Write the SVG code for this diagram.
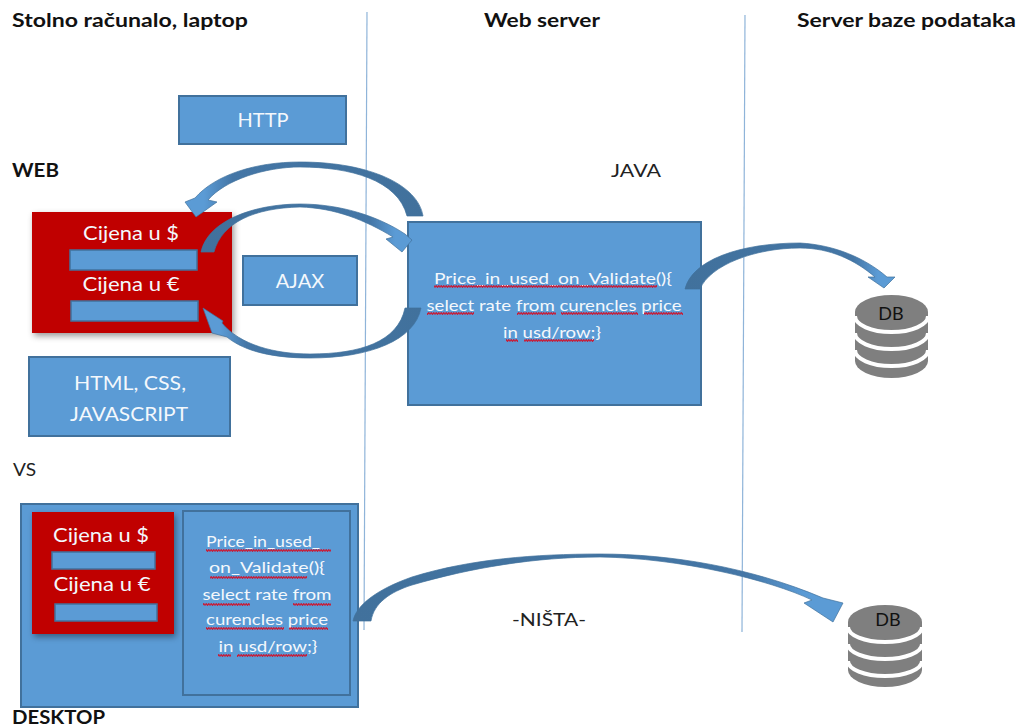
<svg xmlns="http://www.w3.org/2000/svg" width="1018" height="728" viewBox="0 0 1018 728">
<style>
text{font-family:"Lato","Open Sans","Liberation Sans",sans-serif}
.h{font-size:18px;font-weight:700;fill:#111}
.d{font-size:18px;fill:#222}
.w{font-size:20px;fill:#f4f8fc;text-anchor:middle}
.c{font-size:16px;fill:#f4f8fc;text-anchor:middle}
.box{fill:#5b9bd5;stroke:#41719c;stroke-width:2}
.red{fill:#c00000;filter:url(#sh)}
.inp{fill:#5b9bd5;stroke:#41719c;stroke-width:1.5}
.div{stroke:#8fb4d9;stroke-width:1.2;fill:none}
.arr{stroke:#41719c;stroke-width:.7;stroke-linejoin:miter}
.g{fill:#7f7f7f}
.band{fill:none;stroke:#fff;stroke-width:4}
.dbt{font-size:18px;fill:#111;text-anchor:middle}
.sq{fill:url(#wave)}
</style>
<defs>
<filter id="sh" x="-10%" y="-10%" width="125%" height="125%"><feDropShadow dx="2" dy="3" stdDeviation="3" flood-color="#000" flood-opacity=".4"/></filter>
<pattern id="wave" width="5" height="3" patternUnits="userSpaceOnUse"><path d="M0,2.400 L1.250,.6 L2.500,2.400 L3.750,.6 L5,2.400" fill="none" stroke="#c4203c" stroke-width="1.200"/></pattern>
<linearGradient id="ltr"><stop offset="0" stop-color="#41719c"/><stop offset=".8" stop-color="#4476a6"/><stop offset=".92" stop-color="#5b9bd5"/></linearGradient>
<linearGradient id="rtl"><stop offset=".08" stop-color="#5b9bd5"/><stop offset=".2" stop-color="#4476a6"/><stop offset="1" stop-color="#41719c"/></linearGradient>
</defs>
<rect width="1018" height="728" fill="#fff"/>
<g id="dividers">
<path class="div" d="M367,12 L364,630"/>
<path class="div" d="M745,15 L742,632"/>
</g>
<g id="labels">
<text class="h" x="12" y="27" textLength="236" lengthAdjust="spacingAndGlyphs">Stolno računalo, laptop</text>
<text class="h" x="484" y="27" textLength="116" lengthAdjust="spacingAndGlyphs">Web server</text>
<text class="h" x="797" y="27" textLength="219" lengthAdjust="spacingAndGlyphs">Server baze podataka</text>
<text class="h" x="12" y="177" textLength="47" lengthAdjust="spacingAndGlyphs">WEB</text>
<text class="d" x="611" y="177" textLength="50" lengthAdjust="spacingAndGlyphs">JAVA</text>
<text class="d" x="13" y="476" textLength="23" lengthAdjust="spacingAndGlyphs">VS</text>
<text class="d" x="512" y="626" textLength="74" lengthAdjust="spacingAndGlyphs">-NIŠTA-</text>
<text class="h" x="12" y="724" textLength="93" lengthAdjust="spacingAndGlyphs">DESKTOP</text>
</g>
<g id="http"><rect class="box" x="179" y="96" width="167" height="48"/><text class="w" x="263" y="127">HTTP</text></g>
<g id="web-form">
<rect class="red" x="32" y="212" width="200" height="121"/>
<text class="w" x="131" y="240" textLength="96" lengthAdjust="spacingAndGlyphs">Cijena u $</text>
<rect class="inp" x="70" y="250" width="127" height="20"/>
<text class="w" x="131" y="291" textLength="97" lengthAdjust="spacingAndGlyphs">Cijena u €</text>
<rect class="inp" x="71" y="301" width="127" height="20"/>
</g>
<g id="ajax"><rect class="box" x="243" y="256" width="114" height="49"/><text class="w" x="300" y="288">AJAX</text></g>
<g id="html"><rect class="box" x="29" y="357" width="201" height="79"/>
<text class="w" x="130" y="390" textLength="112" lengthAdjust="spacingAndGlyphs">HTML, CSS,</text>
<text class="w" x="129" y="421" textLength="118" lengthAdjust="spacingAndGlyphs">JAVASCRIPT</text></g>
<g id="java-box"><rect class="box" x="408" y="222" width="293" height="183"/>
<text class="c" x="553" y="284" textLength="238" lengthAdjust="spacingAndGlyphs">Price_in_used_on_Validate(){</text>
<text class="c" x="554" y="311" textLength="255" lengthAdjust="spacingAndGlyphs">select rate from curencles price</text>
<text class="c" x="552" y="338" textLength="98" lengthAdjust="spacingAndGlyphs">in usd/row;}</text>
<rect class="sq" x="434" y="285" width="223" height="3"/>
<rect class="sq" x="427" y="312" width="47" height="3"/>
<rect class="sq" x="517" y="312" width="39" height="3"/>
<rect class="sq" x="561" y="312" width="77" height="3"/>
<rect class="sq" x="644" y="312" width="39" height="3"/>
<rect class="sq" x="506" y="339" width="12" height="3"/>
<rect class="sq" x="524" y="339" width="70" height="3"/>
</g>
<g id="db1">
<path class="g" d="M855,312 A36.500,17 0 0 1 928,312 V361 A36.500,17 0 0 1 855,361Z"/>
<path class="band" d="M855,316 A36.500,16 0 0 0 928,316"/>
<path class="band" d="M855,333 A36.500,16 0 0 0 928,333"/>
<path class="band" d="M855,350 A36.500,16 0 0 0 928,350"/>
<text class="dbt" x="891" y="320">DB</text>
</g>
<g id="desktop">
<rect class="box" x="21" y="504" width="337" height="203"/>
<rect class="red" x="32" y="512" width="142" height="122"/>
<text class="w" x="101" y="542" textLength="96" lengthAdjust="spacingAndGlyphs">Cijena u $</text>
<rect class="inp" x="52" y="552" width="103" height="17"/>
<text class="w" x="102" y="591" textLength="97" lengthAdjust="spacingAndGlyphs">Cijena u €</text>
<rect class="inp" x="55" y="604" width="102" height="17"/>
<rect class="box" x="183" y="511" width="167" height="184"/>
<text class="c" x="263" y="547" textLength="114" lengthAdjust="spacingAndGlyphs">Price_in_used_</text>
<text class="c" x="267" y="573" textLength="116" lengthAdjust="spacingAndGlyphs">on_Validate(){</text>
<text class="c" x="267" y="600" textLength="129" lengthAdjust="spacingAndGlyphs">select rate from</text>
<text class="c" x="267" y="625" textLength="122" lengthAdjust="spacingAndGlyphs">curencles price</text>
<text class="c" x="268" y="652" textLength="99" lengthAdjust="spacingAndGlyphs">in usd/row;}</text>
<rect class="sq" x="206" y="549" width="125" height="3"/>
<rect class="sq" x="210" y="576" width="97" height="3"/>
<rect class="sq" x="203" y="603" width="47" height="3"/>
<rect class="sq" x="293" y="603" width="38" height="3"/>
<rect class="sq" x="206" y="627" width="78" height="3"/>
<rect class="sq" x="289" y="627" width="39" height="3"/>
<rect class="sq" x="218" y="654" width="13" height="3"/>
<rect class="sq" x="237" y="654" width="70" height="3"/>
</g>
<g id="db2">
<path class="g" d="M848,622 A37,17 0 0 1 922,622 V670 A37,17 0 0 1 848,670Z"/>
<path class="band" d="M848,627 A37,15 0 0 0 922,627"/>
<path class="band" d="M848,644 A37,15 0 0 0 922,644"/>
<path class="band" d="M848,661 A37,15 0 0 0 922,661"/>
<text class="dbt" x="888" y="626">DB</text>
</g>
<g id="connectors">
<path class="arr" fill="url(#rtl)" d="M423,216 C418,185 370,162 300,162 C255,162 215,175 195,198 L185,202 L196,217 L217,202 L208,200 C225,180 265,167 300,167 C350,167 398,180 407,216 Z"/>
<path class="arr" fill="url(#ltr)" d="M201,252 C208,220 255,204 300,204 C340,204 378,216 405,234 L412,240 L402,252 L386,239 L393,237 C365,220 335,208 300,207 C255,208 222,222 214,252 Z"/>
<path class="arr" fill="url(#rtl)" d="M421,308 C415,340 370,358 310,358 C275,358 245,352 227,337 L212,333 L203,308 L223,321 L222,323 C240,345 275,354 310,354 C360,354 398,342 405,308 Z"/>
<path class="arr" fill="url(#ltr)" d="M685,289 C692,260 740,243 800,243 C835,245 865,258 887,277 L895,277 L884,288 L868,277 L875,277 C855,260 830,248 800,248 C755,248 710,265 700,289 Z"/>
<path class="arr" fill="url(#ltr)" d="M353,621 C356,606 375,590 412,577 C470,559 535,554 600,554 C670,554 750,567 823,598 L843,603 L833,622 L804,603 L812,600 C770,580 680,558 600,557 C535,557 470,568 412,585 C390,592 374,603 371,621 Z"/>
</g>
</svg>
